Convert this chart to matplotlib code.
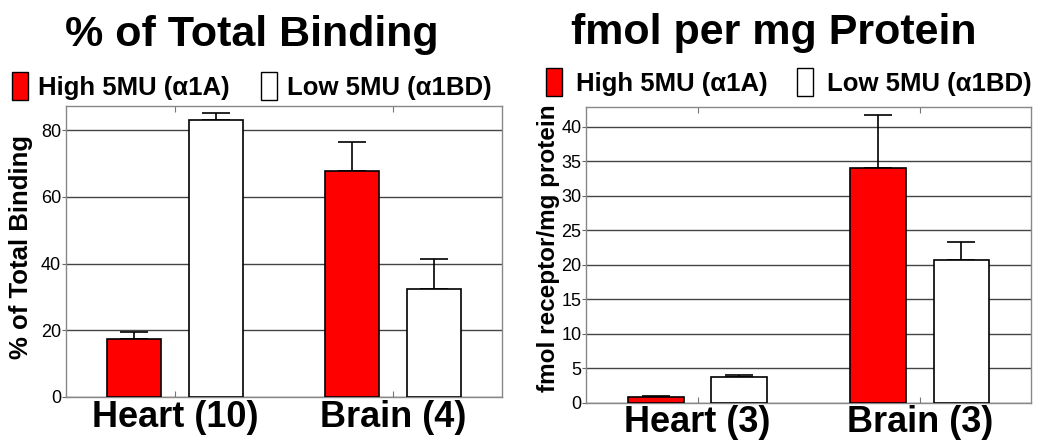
import matplotlib.pyplot as plt
from matplotlib.patches import Patch
import numpy as np

plt.rcParams['font.family'] = ['Liberation Sans', 'DejaVu Sans']

# left panel: % of total binding
pct_groups = ['Heart (10)', 'Brain (4)']
pct_high = [17.4, 67.8]
pct_high_err = [2.1, 8.7]
pct_low = [82.9, 32.4]
pct_low_err = [2.1, 8.9]

# right panel: fmol receptor per mg protein
fmol_groups = ['Heart (3)', 'Brain (3)']
fmol_high = [0.78, 34.0]
fmol_high_err = [0.2, 7.7]
fmol_low = [3.77, 20.7]
fmol_low_err = [0.25, 2.6]

series_names = ['High 5MU (\u03b11A)', 'Low 5MU (\u03b11BD)']
red = '#ff0000'


def draw_panel(ax, groups, high, high_err, low, low_err, yticks, ylim,
               ylabel, ylabel_size, ylabel_xy):
    x = np.arange(len(groups))
    w = 0.25
    off = 0.1875
    ax.bar(x - off, high, w, color=red, edgecolor='black', lw=1.2, zorder=3)
    ax.bar(x + off, low, w, color='white', edgecolor='black', lw=1.2, zorder=3)
    # upper error bars only
    for xs, ys, es in [(x - off, high, high_err), (x + off, low, low_err)]:
        ax.errorbar(xs, ys, yerr=[np.zeros(len(ys)), es], fmt='none',
                    ecolor='black', elinewidth=1.2, capsize=10, capthick=1.2,
                    zorder=2)
    ax.set_xlim(-0.5, 1.5)
    ax.set_ylim(*ylim)
    ax.set_yticks(yticks)
    ax.yaxis.grid(True, color='#444444', lw=1.0, zorder=0)
    ax.set_axisbelow(True)
    ax.set_xticks(x)
    ax.set_xticklabels(groups, fontsize=26, fontweight='bold')
    ax.tick_params(axis='x', direction='in', top=True, length=4, pad=2,
                   color='#777777')
    ax.tick_params(axis='y', direction='out', length=3, labelsize=13,
                   pad=0.5, color='#666666')
    for s in ax.spines.values():
        s.set_color('#888888')
        s.set_linewidth(1.0)
    ax.set_ylabel(ylabel, fontsize=ylabel_size, fontweight='bold')
    ax.yaxis.set_label_coords(*ylabel_xy)


fig = plt.figure(figsize=(10.38, 4.44), dpi=100)
ax1 = fig.add_axes([0.0636, 0.106, 0.42, 0.655])
ax2 = fig.add_axes([0.565, 0.093, 0.428, 0.666])

draw_panel(ax1, pct_groups, pct_high, pct_high_err, pct_low, pct_low_err,
           [0, 20, 40, 60, 80], (0, 87.2), '% of Total Binding',
           18.5, (-0.0757, 0.514))
draw_panel(ax2, fmol_groups, fmol_high, fmol_high_err, fmol_low, fmol_low_err,
           np.arange(0, 41, 5), (0, 42.85), 'fmol receptor/mg protein',
           17.5, (-0.059, 0.521))

fig.text(252 / 1038, 1 - 35 / 444, '% of Total Binding', fontsize=31,
         fontweight='bold', ha='center', va='center')
fig.text(774 / 1038, 1 - 33 / 444, 'fmol per mg Protein', fontsize=31,
         fontweight='bold', ha='center', va='center')

handles = [Patch(facecolor=red, edgecolor='black', lw=1.0),
           Patch(facecolor='white', edgecolor='black', lw=1.0)]
for lx, ly, colsp, txtpad in [(12 / 1038, 1 - 86 / 444, 1.2, 0.4),
                              (546 / 1038, 1 - 82 / 444, 1.15, 0.55)]:
    fig.legend(handles, series_names, loc='center left', bbox_to_anchor=(lx, ly),
               ncol=2, frameon=False, handlelength=0.62, handleheight=1.3,
               handletextpad=txtpad, columnspacing=colsp, borderpad=0,
               borderaxespad=0, prop={'weight': 'bold', 'size': 18.5})

fig.savefig('out.png', dpi=100)
